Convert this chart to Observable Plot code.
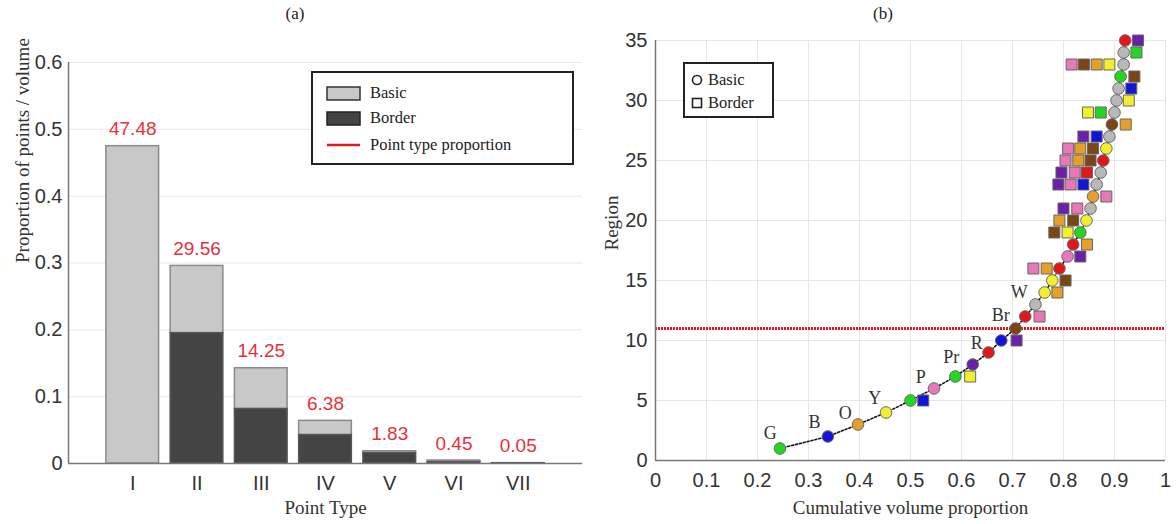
<!DOCTYPE html>
<html><head><meta charset="utf-8">
<script src="https://cdn.jsdelivr.net/npm/d3@7"></script>
<script src="https://cdn.jsdelivr.net/npm/@observablehq/plot@0.6"></script>
<style>
body{margin:0;background:#fff}
#wrap{position:relative;width:1176px;height:524px;overflow:hidden;font-family:"Liberation Serif",serif;color:#222}
.panel{position:absolute;top:0}
.ttl{height:28px;line-height:28px;text-align:center;font-size:17px;color:#222}
.leg{position:absolute;background:#fff}
</style></head><body>
<div id="wrap">
  <div class="panel" id="pa" style="left:0;width:590px"><div class="ttl">(a)</div></div>
  <div class="panel" id="pb" style="left:590px;width:586px"><div class="ttl">(b)</div></div>
  <svg class="leg" style="left:311px;top:71px" width="263" height="94">
    <rect x="1" y="1" width="261" height="92" fill="#fff" stroke="#222" stroke-width="2"/>
    <rect x="16" y="16" width="33" height="13" fill="#c8c8c8" stroke="#333" stroke-width="1.5"/>
    <text x="59" y="27" font-size="16.5" fill="#222">Basic</text>
    <rect x="16" y="41" width="33" height="13" fill="#444" stroke="#222" stroke-width="1.5"/>
    <text x="59" y="52" font-size="16.5" fill="#222">Border</text>
    <line x1="16" x2="49" y1="74" y2="74" stroke="#e01818" stroke-width="2.5"/>
    <text x="59" y="79" font-size="16.5" fill="#222">Point type proportion</text>
  </svg>
  <svg class="leg" style="left:683px;top:62px" width="91" height="56">
    <rect x="1" y="1" width="89" height="54" fill="#fff" stroke="#222" stroke-width="2"/>
    <circle cx="14" cy="18" r="4.5" fill="none" stroke="#222" stroke-width="1.6"/>
    <text x="25" y="23" font-size="16.5" fill="#222">Basic</text>
    <rect x="9.5" y="36.5" width="9" height="9" fill="none" stroke="#222" stroke-width="1.6"/>
    <text x="25" y="46" font-size="16.5" fill="#222">Border</text>
  </svg>
</div>
<script>
// ---------- Panel (a) data ----------
const pointTypes = ["I", "II", "III", "IV", "V", "VI", "VII"];
const typePercent = [47.48, 29.56, 14.25, 6.38, 1.83, 0.45, 0.05];
const borderShare = [0, 0.195, 0.0815, 0.0425, 0.0155, 0.002, 0.0003];
const yTicksA = [0, 0.1, 0.2, 0.3, 0.4, 0.5, 0.6];

// ---------- Panel (b) data ----------
// cumulative volume proportion of the basic point of each region (regions 1..35)
const basicX = [0.244, 0.338, 0.397, 0.452, 0.500, 0.546, 0.588, 0.622, 0.653, 0.678,
                0.706, 0.725, 0.745, 0.763, 0.778, 0.792, 0.808, 0.819, 0.833, 0.845,
                0.853, 0.858, 0.865, 0.873, 0.878, 0.884, 0.890, 0.895, 0.900, 0.904,
                0.908, 0.912, 0.918, 0.918, 0.921];
const basicColor = ["G","B","O","Y","G","P","G","Pr","R","B",
                    "Br","R","W","Y","Y","R","P","R","G","Y",
                    "W","O","W","W","R","Y","W","Br","W","W",
                    "W","G","W","W","R"];
const borderRegion = [5,7,10,12,14,15,16,16,17,18,19,19,20,20,21,21,22,23,23,23,24,24,24,
                      25,25,25,26,26,26,27,27,28,29,29,30,31,32,33,33,33,33,34,35];
const borderX = [0.525,0.617,0.708,0.753,0.788,0.804,0.741,0.767,0.833,0.846,0.782,0.808,
                 0.792,0.819,0.800,0.827,0.884,0.790,0.814,0.839,0.796,0.822,0.846,0.804,
                 0.829,0.853,0.809,0.833,0.858,0.839,0.865,0.922,0.848,0.873,0.928,0.933,
                 0.939,0.816,0.840,0.865,0.890,0.943,0.946];
const borderColor = ["B","Y","Pr","P","O","Br","P","O","Pr","O","Br","Y","O","Br","Pr","P",
                     "P","Pr","P","B","Pr","P","R","P","O","Br","P","O","Br","Pr","B","O",
                     "Y","G","Y","B","Br","P","Br","O","Y","G","Pr"];
const colorCodes = ["G","B","O","Y","P","Pr","R","Br","W"];
const colorValues = ["#22d622","#1414d8","#e4a028","#f2f02c","#e878b8","#6a20a8","#e01818","#7a4616","#b8b8b8"];
const curveLabels = ["G","B","O","Y","P","Pr","R","Br","W"];
const curveLabelX = [0.225, 0.312, 0.372, 0.430, 0.520, 0.580, 0.630, 0.677, 0.713];
const curveLabelY = [2.3, 3.2, 3.9, 5.2, 6.9, 8.6, 9.8, 12.1, 14.0];
const thresholdRegion = 11;
const xTicksB = [0, 0.1, 0.2, 0.3, 0.4, 0.5, 0.6, 0.7, 0.8, 0.9, 1];
const yTicksB = [0, 5, 10, 15, 20, 25, 30, 35];

const sans = "'Liberation Sans', Arial, sans-serif";
const serif = "'Liberation Serif', 'Times New Roman', serif";

// ---------- Panel (a) ----------
const bars = pointTypes.map((t, i) => ({
  t, pos: i + 1, total: typePercent[i] / 100, border: borderShare[i], label: typePercent[i].toFixed(2)
}));
const halfW = 0.41;
const plotA = Plot.plot({
  width: 590, height: 496,
  marginLeft: 68, marginRight: 8, marginTop: 34, marginBottom: 61,
  style: {fontFamily: sans, fontSize: "20px", color: "#333", background: "transparent"},
  x: {domain: [0, 8]},
  y: {domain: [0, 0.6]},
  marks: [
    Plot.gridY(yTicksA.slice(1), {stroke: "#e6e6e6", strokeOpacity: 1}),
    Plot.rectY(bars, {x1: d => d.pos - halfW, x2: d => d.pos + halfW, y1: d => d.border, y2: "total",
      fill: "#c8c8c8", stroke: "#8a8a8a", strokeWidth: 1.5}),
    Plot.rectY(bars.filter(d => d.border > 0), {x1: d => d.pos - halfW, x2: d => d.pos + halfW, y1: 0, y2: "border",
      fill: "#444", stroke: "#555", strokeWidth: 1.5}),
    Plot.text(bars, {x: "pos", y: "total", text: "label", dy: -17, fill: "#e8303a", fontSize: 19, fontFamily: sans}),
    Plot.ruleX([0], {stroke: "#777", strokeWidth: 1.5}),
    Plot.ruleY([0], {stroke: "#777", strokeWidth: 1.5}),
    Plot.axisX(bars.map(d => d.pos), {tickSize: 0, tickPadding: 12, tickFormat: d => pointTypes[d - 1], label: null, fill: "#333"}),
    Plot.axisY(yTicksA, {tickSize: 0, tickPadding: 6, tickFormat: d => String(+d.toFixed(1)), label: null, fill: "#333"}),
    Plot.text(["Point Type"], {frameAnchor: "bottom", dy: 50, fontFamily: serif, fontSize: 19, fill: "#333"}),
    Plot.text(["Proportion of points / volume"], {frameAnchor: "left", rotate: -90, dx: -46, fontFamily: serif, fontSize: 19, fill: "#333"})
  ]
});
document.getElementById("pa").appendChild(plotA);

// ---------- Panel (b) ----------
const basicPts = basicX.map((x, i) => ({x, r: i + 1, c: basicColor[i]}));
const borderPts = borderX.map((x, i) => ({x, r: borderRegion[i], c: borderColor[i]}));
const labels = curveLabels.map((t, i) => ({t, x: curveLabelX[i], y: curveLabelY[i]}));
const plotB = Plot.plot({
  width: 586, height: 496,
  marginLeft: 65, marginRight: 11, marginTop: 12, marginBottom: 64,
  style: {fontFamily: sans, fontSize: "20px", color: "#333", background: "transparent"},
  x: {domain: [0, 1]},
  y: {domain: [0, 35]},
  color: {domain: colorCodes, range: colorValues},
  marks: [
    Plot.gridX(xTicksB.slice(1), {stroke: "#e6e6e6", strokeOpacity: 1}),
    Plot.gridY(yTicksB.slice(1), {stroke: "#e6e6e6", strokeOpacity: 1}),
    Plot.ruleY([thresholdRegion], {stroke: "#e8141c", strokeWidth: 3, strokeDasharray: "2,1"}),
    Plot.line(basicPts, {x: "x", y: "r", stroke: "#111", strokeWidth: 1.6, strokeDasharray: "2,2"}),
    Plot.dot(borderPts, {x: "x", y: "r", symbol: "square", r: 6.2, fill: "c", stroke: "#666", strokeWidth: 1}),
    Plot.dot(basicPts, {x: "x", y: "r", symbol: "circle", r: 5.8, fill: "c", stroke: "#666", strokeWidth: 1}),
    Plot.text(labels, {x: "x", y: "y", text: "t", fontFamily: serif, fontSize: 18, fill: "#333"}),
    Plot.ruleX([0], {stroke: "#777", strokeWidth: 1.5}),
    Plot.ruleY([0], {stroke: "#777", strokeWidth: 1.5}),
    Plot.axisX(xTicksB, {tickSize: 0, tickPadding: 12, tickFormat: d => String(+d.toFixed(1)), label: null, fill: "#333"}),
    Plot.axisY(yTicksB, {tickSize: 0, tickPadding: 8, label: null, fill: "#333"}),
    Plot.text(["Cumulative volume proportion"], {frameAnchor: "bottom", dy: 53, fontFamily: serif, fontSize: 19, fill: "#333"}),
    Plot.text(["Region"], {frameAnchor: "left", rotate: -90, dx: -44, fontFamily: serif, fontSize: 19, fill: "#333"})
  ]
});
document.getElementById("pb").appendChild(plotB);
</script>
</body></html>
